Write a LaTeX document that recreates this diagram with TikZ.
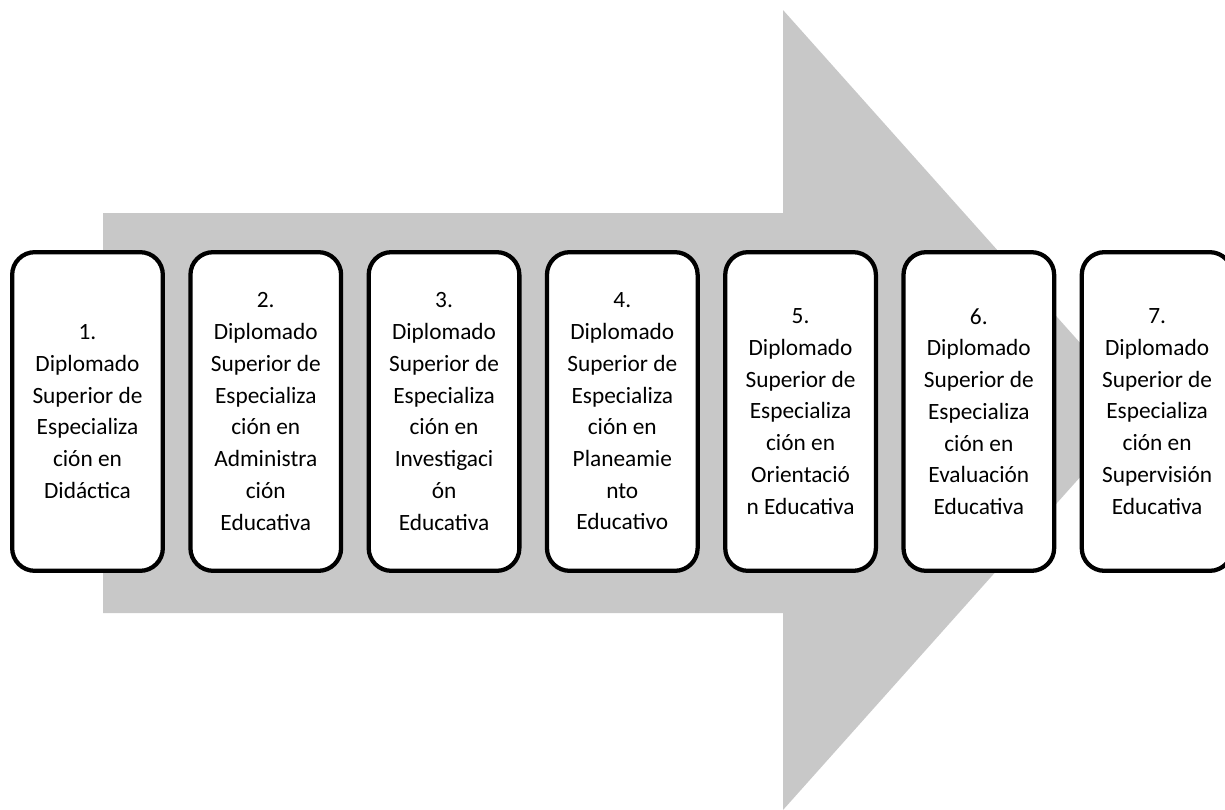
\documentclass[tikz,border=0pt]{standalone}
\usepackage{fontspec}
\setmainfont{Carlito}
\usepackage{xcolor}
\usepackage{tikz}
\usetikzlibrary{positioning}
\definecolor{arrowgray}{HTML}{C8C8C8}

\begin{document}
\begin{tikzpicture}[x=0.75pt,y=-0.75pt,node distance=17.5pt,
  stage/.style={draw,line width=3.2pt,rounded corners=17pt,fill=white,align=center,
    minimum width=113pt,minimum height=239pt,inner sep=2pt,
    font=\fontsize{17.5}{23.8}\selectfont}]
\useasboundingbox (0,0) rectangle (1225,810);
% big gray arrow behind the boxes
\coordinate (tip) at (1140,410);
\fill[arrowgray] (103,213) -- (783,213) -- (783,10) -- (tip)
  -- (783,810) -- (783,613) -- (103,613) -- cycle;
% the seven diplomas
\node[stage] (d1) at (87.5,411.5) {1.\\Diplomado\\Superior de\\Especializa\\ción en\\Didáctica};
\node[stage,right=of d1] (d2) {2.\\Diplomado\\Superior de\\Especializa\\ción en\\Administra\\ción\\Educativa};
\node[stage,right=of d2] (d3) {3.\\Diplomado\\Superior de\\Especializa\\ción en\\Investigaci\\ón\\Educativa};
\node[stage,right=of d3] (d4) {4.\\Diplomado\\Superior de\\Especializa\\ción en\\Planeamie\\nto\\Educativo};
\node[stage,right=of d4] (d5) {5.\\Diplomado\\Superior de\\Especializa\\ción en\\Orientació\\n Educativa};
\node[stage,right=of d5] (d6) {6.\\Diplomado\\Superior de\\Especializa\\ción en\\Evaluación\\Educativa};
\node[stage,right=of d6] (d7) {7.\\Diplomado\\Superior de\\Especializa\\ción en\\Supervisión\\Educativa};
\end{tikzpicture}
\end{document}
